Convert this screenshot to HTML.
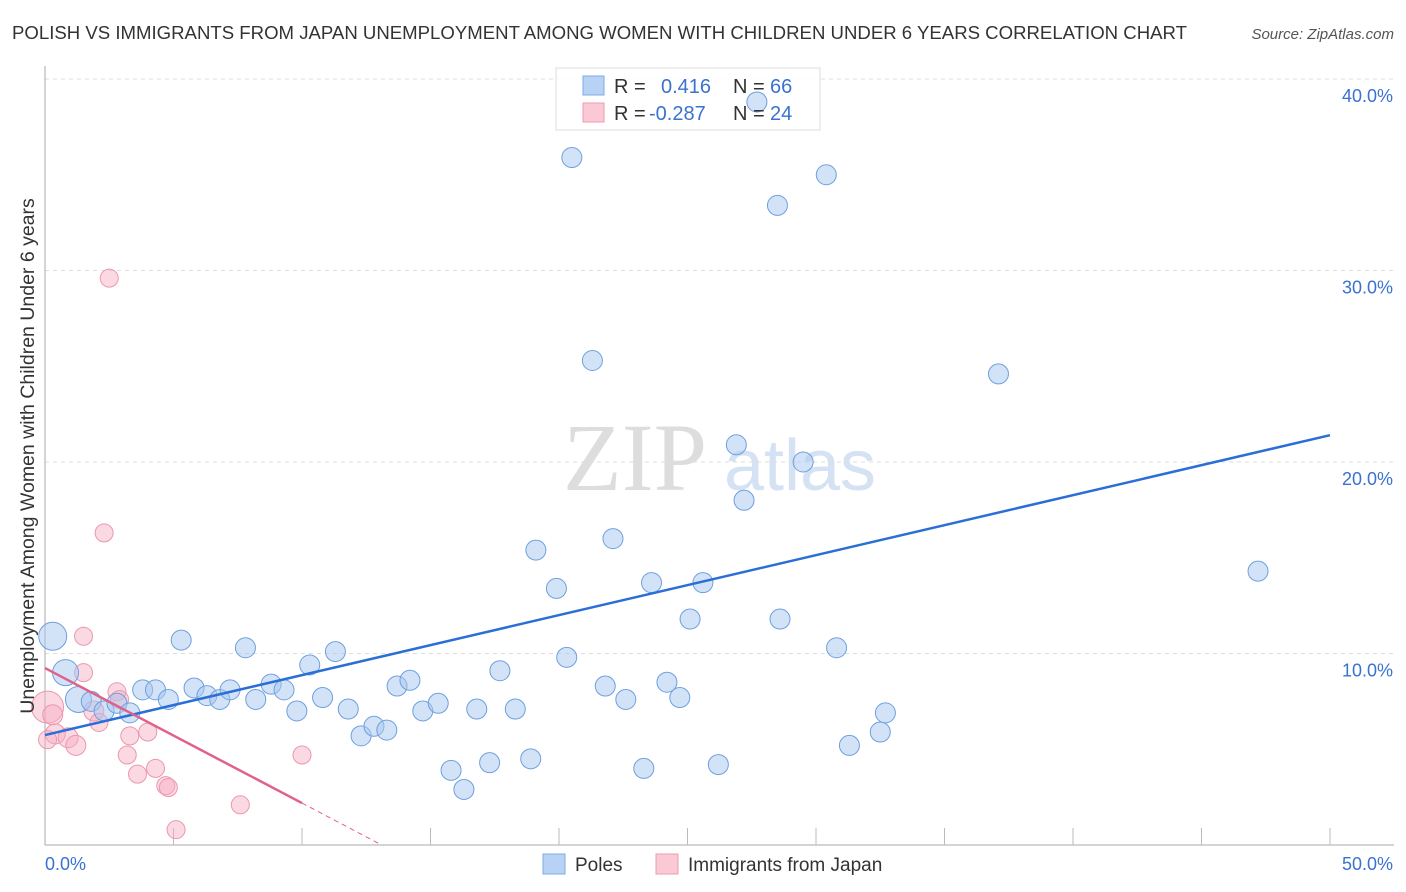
<!DOCTYPE html>
<html><head><meta charset="utf-8"><style>
body{margin:0;background:#fff;font-family:"Liberation Sans",sans-serif;}
svg{display:block}
</style></head><body>
<svg width="1406" height="892" id="chart">
<text x="12" y="39" font-size="18.6" fill="#333">POLISH VS IMMIGRANTS FROM JAPAN UNEMPLOYMENT AMONG WOMEN WITH CHILDREN UNDER 6 YEARS CORRELATION CHART</text>
<text x="1394" y="39" font-size="15" fill="#555" text-anchor="end" font-style="italic">Source: ZipAtlas.com</text>
<text x="635" y="490" font-size="96" fill="#ddd" font-family="Liberation Serif,serif" text-anchor="middle">ZIP</text>
<text x="800" y="490" font-size="72" fill="#d4e2f4" text-anchor="middle">atlas</text>
<g id="grid"></g>
<g id="axes"></g>
<g>
<rect x="556" y="68" width="264" height="62" fill="rgba(255,255,255,0.8)" stroke="#ddd"/>
</g>
<g id="marks"></g>
<text transform="translate(34,456) rotate(-90)" font-size="19.5" fill="#333" text-anchor="middle">Unemployment Among Women with Children Under 6 years</text>
<g>
<rect x="583" y="76" width="21" height="19" fill="#b7d2f5" stroke="#7fa9e3"/>
<rect x="583" y="103" width="21" height="19" fill="#fbc9d6" stroke="#ee9ab2"/>
<text x="614" y="93" font-size="20" fill="#333">R =</text>
<text x="661" y="93" font-size="20" fill="#3a72d0">0.416</text>
<text x="733" y="93" font-size="20" fill="#333">N =</text>
<text x="770" y="93" font-size="20" fill="#3a72d0">66</text>
<text x="614" y="120" font-size="20" fill="#333">R =</text>
<text x="649" y="120" font-size="20" fill="#3a72d0">-0.287</text>
<text x="733" y="120" font-size="20" fill="#333">N =</text>
<text x="770" y="120" font-size="20" fill="#3a72d0">24</text>
</g>
<g>
<rect x="543" y="854" width="22" height="20" fill="#b7d2f5" stroke="#7fa9e3"/>
<text x="575" y="871" font-size="19" fill="#333">Poles</text>
<rect x="656" y="854" width="22" height="20" fill="#fbc9d6" stroke="#ee9ab2"/>
<text x="688" y="871" font-size="19" fill="#333">Immigrants from Japan</text>
</g>
</svg>
<script>
const xTicks=[0,50];
const yTicks=[10,20,30,40];
const polesX=[0.3,0.8,1.3,1.8,2.3,2.8,3.3,3.8,4.3,4.8,5.3,5.8,6.3,6.8,7.2,7.8,8.2,8.8,9.3,9.8,10.3,10.8,11.3,11.8,12.3,12.8,13.3,13.7,14.2,14.7,15.3,15.8,16.3,16.8,17.3,17.7,18.3,18.9,19.1,19.9,20.3,20.5,21.3,21.8,22.1,22.6,23.3,23.6,24.2,24.7,25.1,25.6,26.2,26.9,27.2,27.7,28.5,28.6,29.5,30.4,30.8,31.3,32.5,32.7,37.1,47.2];
const polesY=[10.9,9.0,7.6,7.5,7.0,7.4,6.9,8.1,8.1,7.6,10.7,8.2,7.8,7.6,8.1,10.3,7.6,8.4,8.1,7.0,9.4,7.7,10.1,7.1,5.7,6.2,6.0,8.3,8.6,7.0,7.4,3.9,2.9,7.1,4.3,9.1,7.1,4.5,15.4,13.4,9.8,35.9,25.3,8.3,16.0,7.6,4.0,13.7,8.5,7.7,11.8,13.7,4.2,20.9,18.0,38.8,33.4,11.8,20.0,35.0,10.3,5.2,5.9,6.9,24.6,14.3];
const poleSizes=[14,13,13,10,10,10,10,10,10,10,10,10,10,10,10,10,10,10,10,10,10,10,10,10,10,10,10,10,10,10,10,10,10,10,10,10,10,10,10,10,10,10,10,10,10,10,10,10,10,10,10,10,10,10,10,10,10,10,10,10,10,10,10,10,10,10];
const japanX=[0.1,0.3,0.4,0.9,1.2,1.5,1.5,1.9,2.1,2.3,2.5,2.8,2.9,3.2,3.3,3.6,4.0,4.3,4.7,4.8,5.1,7.6,10.0,0.1];
const japanY=[7.2,6.8,5.8,5.6,5.2,10.9,9.0,7.0,6.4,16.3,29.6,8.0,7.6,4.7,5.7,3.7,5.9,4.0,3.1,3.0,0.8,2.1,4.7,5.5];
const japanSizes=[16,10,10,10,10,9,9,10,9,9,9,9,9,9,9,9,9,9,9,9,9,9,9,9];
const blueLine=[[0,5.74],[50,21.4]];
const pinkSolid=[[0,9.24],[10,2.19]];
const pinkDash=[[10,2.19],[13.1,0]];
const X=v=>45+v*25.7, Y=v=>845-v*19.15;
const NS='http://www.w3.org/2000/svg';
function mk(t,a,p){const e=document.createElementNS(NS,t);for(const k in a)e.setAttribute(k,a[k]);p.appendChild(e);return e;}
const grid=document.getElementById('grid'),axes=document.getElementById('axes'),marks=document.getElementById('marks');
yTicks.forEach(t=>{
 const l=mk('line',{x1:45,x2:1394,y1:Y(t),y2:Y(t),stroke:'#ddd','stroke-dasharray':'4,4'},grid);
 
 
 const tx=mk('text',{x:1393,y:Y(t)+23,'font-size':18,fill:'#3a72d0','text-anchor':'end'},axes);tx.textContent=t.toFixed(1)+'%';
 
 
});
const ya=mk('line',{x1:45,x2:45,y1:66,y2:845,stroke:'#aaa'},axes);


const xa=mk('line',{x1:45,x2:1394,y1:845,y2:845,stroke:'#aaa'},axes);


for(let i=1;i<=10;i++){const tk=mk('line',{x1:X(i*5),x2:X(i*5),y1:828,y2:845,stroke:'#bbb'},axes);
 
 }
xTicks.forEach((t,i)=>{const tx=mk('text',{x:i?1393:45,y:870,'font-size':18,fill:'#3a72d0','text-anchor':i?'end':'start'},axes);tx.textContent=t.toFixed(1)+'%';
 
 });
japanX.forEach((v,i)=>{const c=mk('circle',{cx:X(v),cy:Y(japanY[i]),r:japanSizes[i],fill:'rgba(246,170,192,0.45)',stroke:'#ec97ae','stroke-width':1},marks);
 
 });
polesX.forEach((v,i)=>{const c=mk('circle',{cx:X(v),cy:Y(polesY[i]),r:poleSizes[i],fill:'rgba(168,200,240,0.5)',stroke:'#6e9fdf','stroke-width':1},marks);
 
 });
const bl=mk('line',{x1:X(blueLine[0][0]),y1:Y(blueLine[0][1]),x2:X(blueLine[1][0]),y2:Y(blueLine[1][1]),stroke:'#2a6ed6','stroke-width':2.5},marks);


const pl=mk('line',{x1:X(pinkSolid[0][0]),y1:Y(pinkSolid[0][1]),x2:X(pinkSolid[1][0]),y2:Y(pinkSolid[1][1]),stroke:'#e0628a','stroke-width':2.5},marks);


const pd=mk('line',{x1:X(pinkDash[0][0]),y1:Y(pinkDash[0][1]),x2:X(pinkDash[1][0]),y2:Y(pinkDash[1][1]),stroke:'#e0628a','stroke-width':1,'stroke-dasharray':'5,4'},marks);


</script>
</body></html>
